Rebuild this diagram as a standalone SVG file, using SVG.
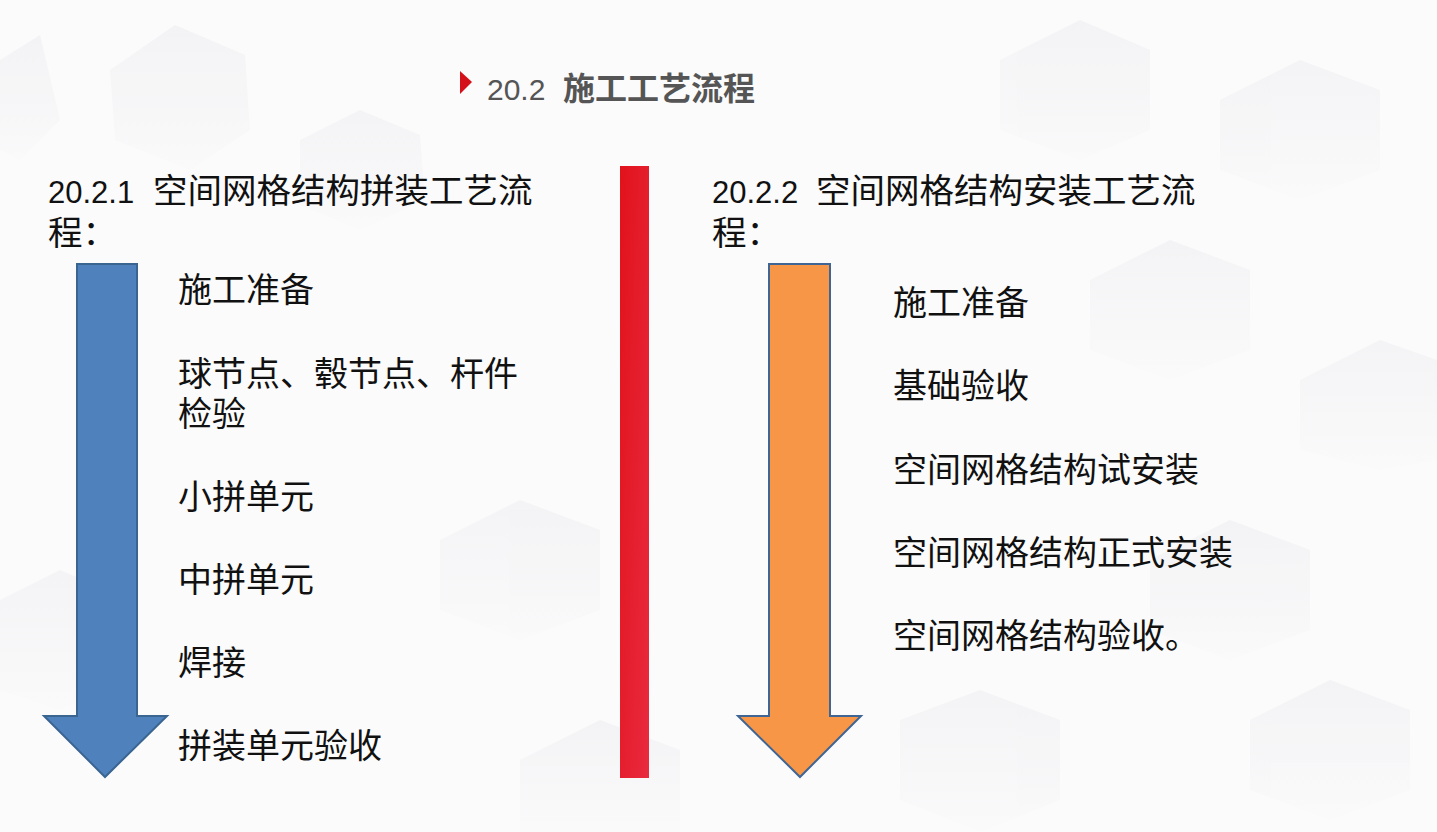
<svg xmlns="http://www.w3.org/2000/svg" width="1437" height="832" viewBox="0 0 1437 832">
<defs>
<linearGradient id="bar" x1="0" y1="0" x2="1" y2="1">
<stop offset="0" stop-color="#e1121b"/>
<stop offset="1" stop-color="#e92a3f"/>
</linearGradient>
<linearGradient id="hex" x1="0" y1="0" x2="0" y2="1">
<stop offset="0" stop-color="#f2f2f4"/>
<stop offset="1" stop-color="#fafafb"/>
</linearGradient>
<style>
.t{font-family:"Noto Sans CJK SC","Noto Sans",sans-serif;font-size:34px;fill:#111}
.h{font-family:"Noto Sans CJK SC",sans-serif;font-size:34.5px;fill:#111}
.hn{font-family:"Liberation Sans","Noto Sans CJK SC",sans-serif;font-size:31px;fill:#111}
.hx{fill:url(#hex)}
</style>
</defs>
<rect width="1437" height="832" fill="#fbfbfc"/>
<g id="background" opacity="0.8">
<polygon class="hx" points="110,70 175,25 245,55 250,130 190,170 115,140"/>
<polygon class="hx" points="0,60 40,35 60,120 20,160 0,150"/>
<polygon class="hx" points="300,140 360,110 420,135 425,200 360,230 300,205"/>
<polygon class="hx" points="1000,60 1080,20 1150,50 1150,130 1080,160 1000,130"/>
<polygon class="hx" points="1220,100 1300,60 1380,90 1380,170 1300,200 1220,170"/>
<polygon class="hx" points="1090,280 1170,240 1250,270 1250,350 1170,380 1090,350"/>
<polygon class="hx" points="1300,380 1380,340 1437,360 1437,460 1380,470 1300,450"/>
<polygon class="hx" points="1150,560 1230,520 1310,550 1310,630 1230,660 1150,630"/>
<polygon class="hx" points="1250,720 1330,680 1410,710 1410,790 1330,820 1250,790"/>
<polygon class="hx" points="440,540 520,500 600,530 600,610 520,640 440,610"/>
<polygon class="hx" points="520,760 600,720 680,750 680,832 520,832"/>
<polygon class="hx" points="0,600 60,570 130,600 130,680 60,710 0,690"/>
<polygon class="hx" points="900,720 980,690 1060,720 1060,800 980,832 900,800"/>
</g>
<g id="title">
<polygon points="460,71 472,82 460,94" fill="#d41118"/>
<text x="487" y="100" font-family="'Liberation Sans',sans-serif" font-size="30" fill="#555">20.2</text>
<text x="563" y="100" font-family="'Noto Sans CJK SC',sans-serif" font-size="32" font-weight="bold" fill="#555">施工工艺流程</text>
</g>
<g id="left-heading">
<text x="48" y="203"><tspan class="hn">20.2.1 </tspan><tspan class="h" x="153">空间网格结构拼装工艺流</tspan><tspan class="h" x="48" y="245">程：</tspan></text>
</g>
<g id="divider">
<rect x="620" y="166" width="29" height="612" fill="url(#bar)"/>
</g>
<g id="right-heading">
<text x="712" y="203"><tspan class="hn">20.2.2 </tspan><tspan class="h" x="816">空间网格结构安装工艺流</tspan><tspan class="h" x="712" y="245">程：</tspan></text>
</g>
<g id="connectors">
<polygon id="left-arrow" points="77,264 137,264 137,716 167,716 105,777 44,716 77,716" fill="#4f81bd" stroke="#3a6591" stroke-width="2"/>
<polygon id="right-arrow" points="769,264 830,264 830,716 861,716 800,777 738,716 769,716" fill="#f79646" stroke="#3e6594" stroke-width="2"/>
</g>
<g id="left-steps">
<g id="l1"><text class="t" x="178" y="302">施工准备</text></g>
<g id="l2"><text class="t" x="178" y="386">球节点、毂节点、杆件<tspan x="178" y="426">检验</tspan></text></g>
<g id="l3"><text class="t" x="178" y="509">小拼单元</text></g>
<g id="l4"><text class="t" x="178" y="592">中拼单元</text></g>
<g id="l5"><text class="t" x="178" y="675">焊接</text></g>
<g id="l6"><text class="t" x="178" y="758">拼装单元验收</text></g>
</g>
<g id="right-steps">
<g id="r1"><text class="t" x="893" y="315">施工准备</text></g>
<g id="r2"><text class="t" x="893" y="398">基础验收</text></g>
<g id="r3"><text class="t" x="893" y="482">空间网格结构试安装</text></g>
<g id="r4"><text class="t" x="893" y="565">空间网格结构正式安装</text></g>
<g id="r5"><text class="t" x="893" y="648">空间网格结构验收。</text></g>
</g>
</svg>
